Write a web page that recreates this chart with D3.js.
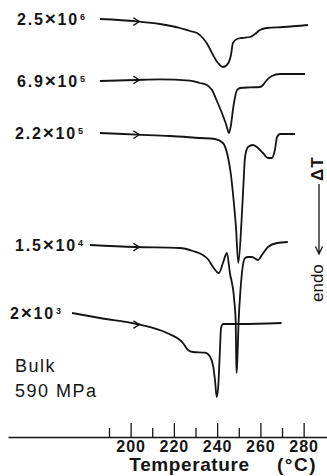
<!DOCTYPE html>
<html>
<head>
<meta charset="utf-8">
<script src="https://cdn.jsdelivr.net/npm/d3@7"></script>
<style>
  html, body { margin: 0; padding: 0; background: #fff; }
  svg { display: block; font-family: "Liberation Sans", Arial, Helvetica, sans-serif; }
</style>
</head>
<body>
<svg id="chart" width="327" height="476"></svg>
<script>
// DTA heating traces (ΔT, arbitrary units, endotherm downward) for polymer
// samples of different molecular weight, crystallized in bulk at 590 MPa.

// Molecular weight labels: mantissa and power of ten
const mwMantissa = ["2.5", "6.9", "2.2", "1.5", "2"];
const mwExponent = ["6", "5", "5", "4", "3"];

// Temperature axis ticks (°C)
const majorTicks = [200, 220, 240, 260, 280];
const minorTicks = [190, 210, 230, 250, 270];

// Traces: [temperature °C, ΔT signal a.u.]
const trace25e6 = [
  [185.8, 104.5], [202.9, 103.9], [213.5, 103.25], [222.8, 102.25], [227.4, 101.5],
  [230.7, 101.0], [233.4, 99.75], [235.7, 98.0], [238.1, 95.5], [240.4, 93.5],
  [242.7, 92.5], [244.5, 93.0], [246.4, 95.5], [247.3, 98.5], [249.2, 99.5],
  [251.5, 99.75], [255.2, 100.0], [257.5, 100.75], [259.8, 101.75], [263.0, 102.25],
  [270.4, 102.5], [282.0, 103.0]
];
const trace69e5 = [
  [185.8, 89.0], [202.0, 89.25], [213.5, 89.4], [227.4, 89.1], [232.0, 88.5],
  [235.3, 88.0], [237.6, 86.75], [239.9, 84.0], [242.2, 81.0], [244.1, 78.25],
  [245.5, 76.0], [246.4, 78.0], [247.3, 81.75], [248.2, 84.75], [249.2, 86.75],
  [250.6, 87.25], [255.2, 87.4], [259.8, 87.5], [261.2, 88.0], [262.6, 89.0],
  [265.3, 90.25], [269.1, 90.75], [280.6, 90.75]
];
const trace22e5 = [
  [185.8, 76.0], [202.9, 75.6], [218.2, 75.25], [232.0, 74.75], [239.0, 74.5],
  [242.7, 73.5], [245.0, 70.0], [246.4, 65.5], [247.3, 61.0], [248.7, 52.5],
  [249.8, 43.5], [251.3, 54.25], [252.1, 62.5], [252.9, 70.0], [254.3, 72.5],
  [256.6, 73.0], [258.9, 72.25], [261.2, 71.0], [263.5, 69.75], [265.3, 69.75],
  [266.7, 71.75], [267.7, 75.0], [269.1, 75.75], [276.0, 75.75]
];
const trace15e4 = [
  [181.2, 48.0], [202.0, 47.5], [222.8, 47.25], [228.8, 46.5], [233.4, 45.5],
  [235.7, 44.5], [238.1, 42.5], [240.8, 41.0], [242.7, 43.5], [244.5, 46.0],
  [245.9, 41.0], [247.9, 34.25], [248.6, 28.5], [248.8, 20.0], [249.0, 16.0],
  [249.4, 20.0], [249.9, 28.5], [250.8, 36.75], [251.8, 42.5], [252.9, 44.75],
  [254.3, 45.0], [256.1, 45.0], [258.9, 44.25], [260.7, 45.5], [263.5, 47.5],
  [267.7, 48.5], [272.7, 48.75]
];
const trace2e3 = [
  [172.9, 31.0], [185.8, 29.75], [202.9, 28.25], [216.8, 26.0], [224.2, 23.5],
  [226.5, 21.75], [228.8, 21.25], [234.4, 21.1], [236.7, 20.1], [238.2, 17.6],
  [239.0, 14.25], [239.8, 10.0], [240.5, 12.5], [241.3, 21.75], [241.8, 27.25],
  [242.8, 28.25], [250.5, 28.25], [269.8, 28.5]
];
const traces = [trace25e6, trace69e5, trace22e5, trace15e4, trace2e3];

// Heating-direction arrow position on each trace (°C)
const arrowTemp = 203.8;

// ---- layout ----
const axisY = 437;
const ink = "#141414";
const svg = d3.select("#chart");

const x = d3.scaleLinear().domain([143.3, 290.8]).range([8, 327]);
const y = d3.scaleLinear().domain([0, 109.25]).range([axisY, 0]);

// ---- traces ----
const line = d3.line()
  .x(d => x(d[0]))
  .y(d => y(d[1]))
  .curve(d3.curveMonotoneX);

svg.append("g")
  .selectAll("path")
  .data(traces)
  .join("path")
  .attr("d", line)
  .attr("fill", "none")
  .attr("stroke", ink)
  .attr("stroke-width", 1.8)
  .attr("stroke-linejoin", "round");

// value of a trace at temperature t (linear between samples)
function valueAt(trace, t) {
  const i = d3.bisector(d => d[0]).left(trace, t);
  if (i <= 0) return trace[0][1];
  if (i >= trace.length) return trace[trace.length - 1][1];
  const a = trace[i - 1], b = trace[i];
  return a[1] + (b[1] - a[1]) * (t - a[0]) / (b[0] - a[0]);
}

// open chevrons marking the heating direction
svg.append("g")
  .selectAll("path")
  .data(traces)
  .join("path")
  .attr("transform", d => `translate(${x(arrowTemp)},${y(valueAt(d, arrowTemp))})`)
  .attr("d", "M-5.5,-3.8L0.5,0L-5.5,3.8")
  .attr("fill", "none")
  .attr("stroke", ink)
  .attr("stroke-width", 1.3);

// ---- molecular weight labels ----
const labelX = [17, 17, 15, 15, 10];
const labels = svg.append("g")
  .attr("font-weight", "bold")
  .attr("fill", ink)
  .selectAll("text")
  .data(traces)
  .join("text")
  .attr("x", (d, i) => labelX[i])
  .attr("y", d => y(d[0][1]) + 6)
  .attr("font-size", 16)
  .attr("letter-spacing", 1.8);

labels.append("tspan").text((d, i) => mwMantissa[i]);
labels.append("tspan").attr("font-size", 19).text("×");
labels.append("tspan").text("10");
labels.append("tspan")
  .attr("font-size", 9)
  .attr("dy", -5.5)
  .attr("dx", 1)
  .text((d, i) => mwExponent[i]);

// ---- sample condition ----
const cond = svg.append("g")
  .attr("fill", ink)
  .attr("font-size", 18)
  .attr("letter-spacing", 1.5);
cond.append("text").attr("x", 15).attr("y", 372).text("Bulk");
cond.append("text").attr("x", 15).attr("y", 397).text("590 MPa");

// ---- temperature axis ----
const gMajor = svg.append("g")
  .attr("transform", `translate(0,${axisY})`)
  .call(d3.axisBottom(x)
    .tickValues(majorTicks)
    .tickSizeInner(-14)
    .tickSizeOuter(0)
    .tickPadding(4)
    .tickFormat(d3.format("d")));
gMajor.select(".domain").attr("stroke", ink).attr("stroke-width", 1.4);
gMajor.selectAll(".tick line").attr("stroke", ink).attr("stroke-width", 1.3);
gMajor.selectAll(".tick text")
  .attr("fill", ink)
  .attr("font-family", "\"Liberation Sans\", Arial, sans-serif")
  .attr("font-size", 16)
  .attr("font-weight", "bold")
  .attr("letter-spacing", 1);

const gMinor = svg.append("g")
  .attr("transform", `translate(0,${axisY})`)
  .call(d3.axisBottom(x)
    .tickValues(minorTicks)
    .tickSizeInner(-9)
    .tickSizeOuter(0)
    .tickFormat(""));
gMinor.select(".domain").remove();
gMinor.selectAll(".tick line").attr("stroke", ink).attr("stroke-width", 1.3);

svg.append("text")
  .attr("x", 189.5).attr("y", 471)
  .attr("text-anchor", "middle")
  .attr("font-size", 19).attr("font-weight", "bold")
  .attr("letter-spacing", 0.6)
  .attr("fill", ink)
  .text("Temperature");
svg.append("text")
  .attr("x", 277).attr("y", 471)
  .attr("font-size", 19).attr("font-weight", "bold")
  .attr("letter-spacing", 1.5)
  .attr("fill", ink)
  .text("(°C)");

// ---- ΔT direction indicator ----
const side = svg.append("g").attr("fill", ink);
side.append("text")
  .attr("transform", "translate(322.5,302) rotate(-90)")
  .attr("font-size", 17)
  .text("endo");
side.append("text")
  .attr("transform", "translate(322.5,181) rotate(-90)")
  .attr("font-size", 17)
  .attr("font-weight", "bold")
  .attr("letter-spacing", 1)
  .text("ΔT");
side.append("path")
  .attr("d", "M319,184V254M315.5,246.5L319,254L322.5,246.5")
  .attr("fill", "none")
  .attr("stroke", ink)
  .attr("stroke-width", 1.3);
</script>
</body>
</html>
